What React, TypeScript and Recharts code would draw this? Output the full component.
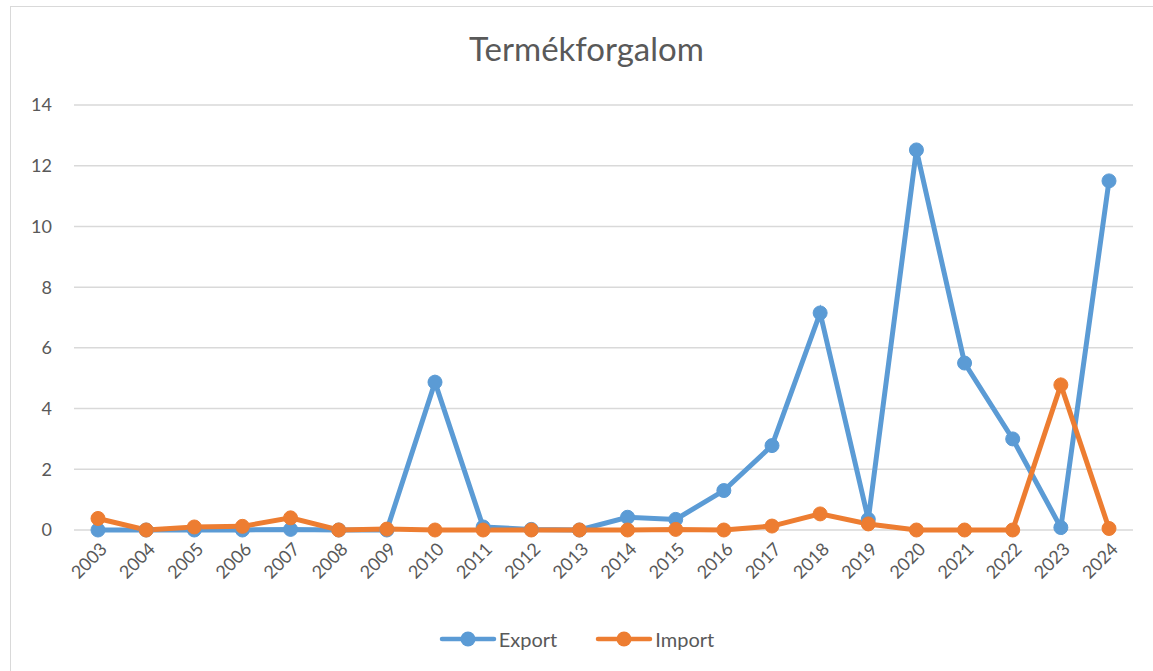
import React from "react";
import { CartesianGrid, Legend, Line, LineChart, XAxis, YAxis } from "recharts";

const years = [
  "2003", "2004", "2005", "2006", "2007", "2008", "2009", "2010", "2011", "2012", "2013",
  "2014", "2015", "2016", "2017", "2018", "2019", "2020", "2021", "2022", "2023", "2024",
];
const exportValues = [0, 0, 0, 0, 0.02, 0, 0, 4.87, 0.1, 0.02, 0, 0.42, 0.35, 1.3, 2.78, 7.15, 0.35, 12.52, 5.5, 3.0, 0.08, 11.5];
const importValues = [0.38, 0, 0.1, 0.12, 0.4, 0, 0.03, 0, 0, 0, 0, 0, 0.02, 0, 0.13, 0.53, 0.2, 0, 0, 0, 4.78, 0.05];
const yTicks = [0, 2, 4, 6, 8, 10, 12, 14];

const data = years.map((year, i) => ({ year, Export: exportValues[i], Import: importValues[i] }));

const FONT = "Lato, 'Open Sans', sans-serif";
const TEXT = "#595959";

const XTick = (props: any) => {
  const { x, y, payload } = props;
  return (
    <g transform={`translate(${x + 6},${y + 8})`}>
      <text transform="rotate(-45)" textAnchor="end" fill={TEXT} fontSize={18} fontFamily={FONT} dy={6}>
        {payload.value}
      </text>
    </g>
  );
};

const LegendContent = (props: any) => {
  const items = props.payload || [];
  return (
    <div style={{ display: "flex", justifyContent: "center", gap: 38, fontFamily: FONT, fontSize: 20, color: TEXT, paddingTop: 14, paddingLeft: 20 }}>
      {items.map((it: any) => (
        <div key={it.value} style={{ display: "flex", alignItems: "center" }}>
          <svg width={58} height={20} style={{ marginRight: 2 }}>
            <line x1={3} y1={10} x2={55} y2={10} stroke={it.color} strokeWidth={4.5} strokeLinecap="round" />
            <circle cx={29} cy={10} r={7.5} fill={it.color} />
          </svg>
          <span>{it.value}</span>
        </div>
      ))}
    </div>
  );
};

export default function App() {
  return (
    <div style={{ position: "absolute", left: 0, top: 0, width: 1153, height: 671, background: "#fff" }}>
      <div style={{ position: "absolute", left: 10, top: 6, width: 1150, height: 670, border: "1px solid #D9D9D9" }} />
      <div
        style={{
          position: "absolute", left: 0, top: 28, width: 1173, textAlign: "center",
          fontFamily: FONT, fontSize: 33, color: TEXT,
        }}
      >
        Termékforgalom
      </div>
      <div style={{ position: "absolute", left: 0, top: 0 }}>
        <LineChart width={1153} height={671} data={data} margin={{ top: 105, right: 20, bottom: 0, left: 0 }}>
          <CartesianGrid vertical={false} stroke="#D9D9D9" strokeWidth={1.5} />
          <XAxis
            dataKey="year"
            axisLine={false}
            tickLine={false}
            interval={0}
            tick={<XTick />}
            height={141 - 58}
            padding={{ left: 24, right: 24 }}
          />
          <YAxis
            domain={[0, 14]}
            ticks={yTicks}
            width={74}
            axisLine={false}
            tickLine={false}
            tickSize={0}
            tickMargin={22}
            tick={{ fill: TEXT, fontSize: 18, fontFamily: FONT }}
          />
          <Legend verticalAlign="bottom" height={58} content={<LegendContent />} />
          <Line
            dataKey="Export"
            stroke="#5B9BD5"
            strokeWidth={5}
            dot={{ r: 7, fill: "#5B9BD5", stroke: "#5B9BD5", strokeWidth: 1 }}
            isAnimationActive={false}
          />
          <Line
            dataKey="Import"
            stroke="#ED7D31"
            strokeWidth={5}
            dot={{ r: 7, fill: "#ED7D31", stroke: "#ED7D31", strokeWidth: 1 }}
            isAnimationActive={false}
          />
        </LineChart>
      </div>
    </div>
  );
}
